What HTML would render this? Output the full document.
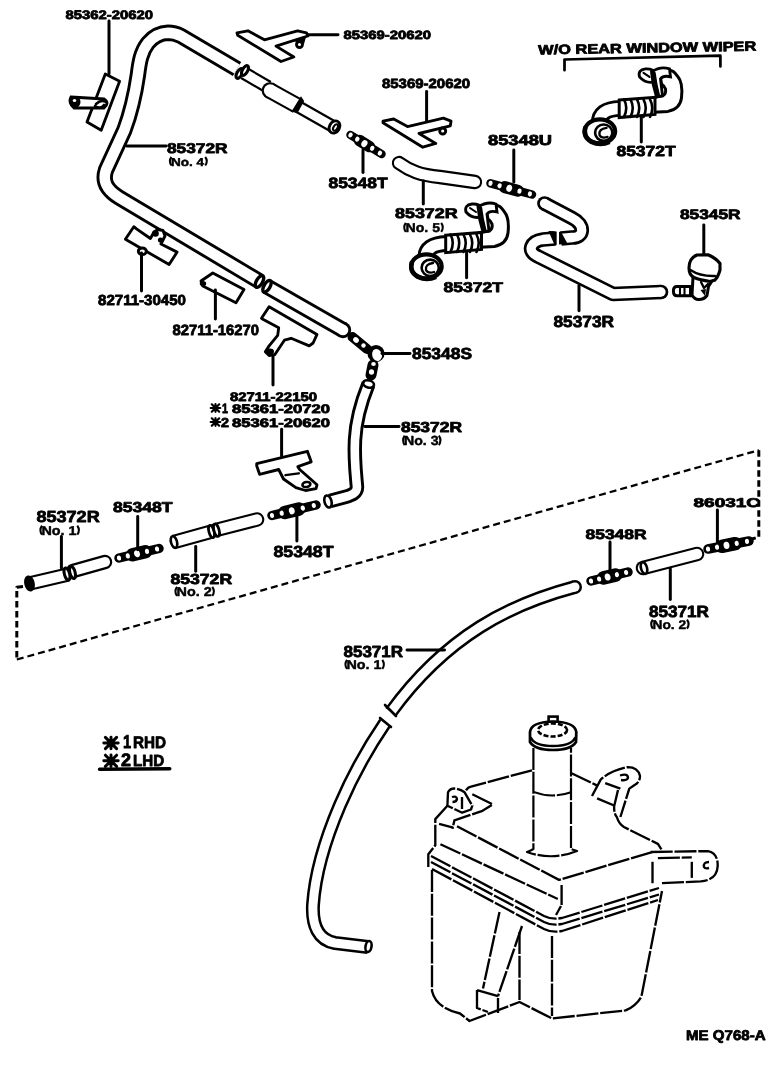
<!DOCTYPE html>
<html><head><meta charset="utf-8"><title>diagram</title>
<style>
html,body{margin:0;padding:0;background:#fff;width:784px;height:1088px;overflow:hidden}
svg{display:block;will-change:transform}
text{font-family:"Liberation Sans",sans-serif;fill:#000;text-rendering:geometricPrecision}
</style></head>
<body>
<svg width="784" height="1088" viewBox="0 0 784 1088">
<rect width="784" height="1088" fill="#fff"/>
<path d="M23,586.5 L16.8,587.2 L16.8,659.5" fill="none" stroke="#000" stroke-width="2.99" stroke-linejoin="round" stroke-dasharray="6.5 3.5" stroke-linecap="butt"/>
<path d="M16.8,659.5 L758.8,450.2" fill="none" stroke="#000" stroke-width="2.27" stroke-linejoin="round" stroke-dasharray="7 4" stroke-linecap="butt"/>
<path d="M758.8,450.2 L758.8,537 L752,539" fill="none" stroke="#000" stroke-width="2.99" stroke-linejoin="round" stroke-dasharray="6.5 3.5" stroke-linecap="butt"/>
<path d="M259,281 L119,197.5 C107,190 102,182 106,170 L124.4,130 C130,115 135,95 137.9,75 C139.5,62 141,52 148,43 C154,36 161,33 168,32.8 C172,32.8 176,33.5 181,36 L237,69" fill="none" stroke="#000" stroke-width="16.40" stroke-linecap="butt" stroke-linejoin="round"/>
<path d="M259,281 L119,197.5 C107,190 102,182 106,170 L124.4,130 C130,115 135,95 137.9,75 C139.5,62 141,52 148,43 C154,36 161,33 168,32.8 C172,32.8 176,33.5 181,36 L237,69" fill="none" stroke="#fff" stroke-width="10.60" stroke-linecap="butt" stroke-linejoin="round"/>
<path d="M267,286.5 L343,330" fill="none" stroke="#000" stroke-width="16.40" stroke-linecap="butt" stroke-linejoin="round"/>
<circle cx="343" cy="330" r="8.20" fill="#000"/>
<path d="M267,286.5 L343,330" fill="none" stroke="#fff" stroke-width="10.60" stroke-linecap="butt" stroke-linejoin="round"/>
<circle cx="343" cy="330" r="5.30" fill="#fff"/>
<ellipse cx="259.5" cy="281.5" rx="3.0" ry="6.6" transform="rotate(30.5 259.5 281.5)" fill="#fff" stroke="#000" stroke-width="3.38"/>
<ellipse cx="267.0" cy="286.3" rx="3.0" ry="6.6" transform="rotate(30.5 267.0 286.3)" fill="#fff" stroke="#000" stroke-width="3.38"/>
<path d="M244,73 L268,87" fill="none" stroke="#000" stroke-width="13.70" stroke-linecap="butt" stroke-linejoin="round"/>
<path d="M244,73 L268,87" fill="none" stroke="#fff" stroke-width="9.30" stroke-linecap="butt" stroke-linejoin="round"/>
<path d="M269,90 L297,105.5" fill="none" stroke="#000" stroke-width="16.70" stroke-linecap="butt" stroke-linejoin="round"/>
<circle cx="270" cy="90.5" r="8.35" fill="#000"/>
<path d="M269,90 L297,105.5" fill="none" stroke="#fff" stroke-width="12.30" stroke-linecap="butt" stroke-linejoin="round"/>
<circle cx="270" cy="90.5" r="6.15" fill="#fff"/>
<path d="M297,106 L334,127" fill="none" stroke="#000" stroke-width="13.20" stroke-linecap="butt" stroke-linejoin="round"/>
<path d="M297,106 L334,127" fill="none" stroke="#fff" stroke-width="8.80" stroke-linecap="butt" stroke-linejoin="round"/>
<ellipse cx="334.5" cy="127.0" rx="5.0" ry="6.5" transform="rotate(30 334.5 127.0)" fill="#fff" stroke="#000" stroke-width="2.86"/>
<ellipse cx="335.5" cy="127.5" rx="2.0" ry="3.5" transform="rotate(30 335.5 127.5)" fill="#fff" stroke="#000" stroke-width="2.08"/>
<path d="M301,98 L293,111 L297,112 L303,101 Z" fill="#000" stroke="#000" stroke-width="1.95"/>
<ellipse cx="239.5" cy="73.5" rx="2.6" ry="5.4" transform="rotate(30 239.5 73.5)" fill="#fff" stroke="#000" stroke-width="3.12"/>
<ellipse cx="245.0" cy="70.5" rx="2.6" ry="5.4" transform="rotate(30 245.0 70.5)" fill="#fff" stroke="#000" stroke-width="3.12"/>
<path d="M399,163 C410,171 420,175 440,177 L475,182" fill="none" stroke="#000" stroke-width="14.40" stroke-linecap="round" stroke-linejoin="round"/>
<path d="M399,163 C410,171 420,175 440,177 L475,182" fill="none" stroke="#fff" stroke-width="10.20" stroke-linecap="round" stroke-linejoin="round"/>
<path d="M544.5,203.5 L572,218 C586,225 584,238 572,237.5 L561,238.5" fill="none" stroke="#000" stroke-width="14.70" stroke-linecap="butt" stroke-linejoin="round"/>
<circle cx="544.5" cy="203.5" r="7.35" fill="#000"/>
<path d="M544.5,203.5 L572,218 C586,225 584,238 572,237.5 L561,238.5" fill="none" stroke="#fff" stroke-width="9.30" stroke-linecap="butt" stroke-linejoin="round"/>
<circle cx="544.5" cy="203.5" r="4.65" fill="#fff"/>
<path d="M560,232 L566,243 L560,243.5 Z" fill="#000" stroke="#000" stroke-width="1.95"/>
<path d="M555,238.5 L543,239.5 C531,241 526,251 538,256.5 L613,294 L661,292" fill="none" stroke="#000" stroke-width="14.70" stroke-linecap="butt" stroke-linejoin="round"/>
<circle cx="661" cy="292" r="7.35" fill="#000"/>
<path d="M555,238.5 L543,239.5 C531,241 526,251 538,256.5 L613,294 L661,292" fill="none" stroke="#fff" stroke-width="9.30" stroke-linecap="butt" stroke-linejoin="round"/>
<circle cx="661" cy="292" r="4.65" fill="#fff"/>
<path d="M550,232 L555.7,232.5 L555.7,245 Z" fill="#000" stroke="#000" stroke-width="1.95"/>
<path d="M368.5,384 C362,400 356,420 355,440 C354,460 356,475 357,487 C357,493 352,495 345,497 L330,501" fill="none" stroke="#000" stroke-width="14.40" stroke-linecap="butt" stroke-linejoin="round"/>
<path d="M368.5,384 C362,400 356,420 355,440 C354,460 356,475 357,487 C357,493 352,495 345,497 L330,501" fill="none" stroke="#fff" stroke-width="8.60" stroke-linecap="butt" stroke-linejoin="round"/>
<ellipse cx="368.6" cy="384.0" rx="5.5" ry="3.5" transform="rotate(15 368.6 384.0)" fill="#fff" stroke="#000" stroke-width="2.60"/>
<ellipse cx="328.0" cy="501.5" rx="3.5" ry="6.2" transform="rotate(-15 328.0 501.5)" fill="#fff" stroke="#000" stroke-width="2.60"/>
<path d="M29.5,583.5 L68,574.5" fill="none" stroke="#000" stroke-width="14.50" stroke-linecap="butt" stroke-linejoin="round"/>
<path d="M29.5,583.5 L68,574.5" fill="none" stroke="#fff" stroke-width="10.10" stroke-linecap="butt" stroke-linejoin="round"/>
<ellipse cx="29.5" cy="583.5" rx="3.0" ry="6.0" transform="rotate(-13 29.5 583.5)" fill="#000" stroke="#000" stroke-width="4.42"/>
<path d="M73,571 L105,562" fill="none" stroke="#000" stroke-width="14.50" stroke-linecap="round" stroke-linejoin="round"/>
<path d="M73,571 L105,562" fill="none" stroke="#fff" stroke-width="10.10" stroke-linecap="round" stroke-linejoin="round"/>
<ellipse cx="67.0" cy="574.0" rx="2.6" ry="6.2" transform="rotate(-15 67.0 574.0)" fill="#fff" stroke="#000" stroke-width="2.99"/>
<ellipse cx="72.5" cy="572.5" rx="2.6" ry="6.2" transform="rotate(-15 72.5 572.5)" fill="#fff" stroke="#000" stroke-width="2.99"/>
<path d="M174,542 L210,532" fill="none" stroke="#000" stroke-width="14.60" stroke-linecap="butt" stroke-linejoin="round"/>
<path d="M174,542 L210,532" fill="none" stroke="#fff" stroke-width="10.40" stroke-linecap="butt" stroke-linejoin="round"/>
<ellipse cx="174.0" cy="542.0" rx="3.0" ry="6.0" transform="rotate(-15 174.0 542.0)" fill="#fff" stroke="#000" stroke-width="2.60"/>
<path d="M216,530 L257,519.5" fill="none" stroke="#000" stroke-width="14.60" stroke-linecap="round" stroke-linejoin="round"/>
<path d="M216,530 L257,519.5" fill="none" stroke="#fff" stroke-width="10.40" stroke-linecap="round" stroke-linejoin="round"/>
<ellipse cx="211.5" cy="531.5" rx="2.6" ry="6.4" transform="rotate(-15 211.5 531.5)" fill="#fff" stroke="#000" stroke-width="2.73"/>
<ellipse cx="216.5" cy="530.2" rx="2.6" ry="6.4" transform="rotate(-15 216.5 530.2)" fill="#fff" stroke="#000" stroke-width="2.73"/>
<path d="M643,568 L697,554" fill="none" stroke="#000" stroke-width="14.60" stroke-linecap="round" stroke-linejoin="round"/>
<path d="M643,568 L697,554" fill="none" stroke="#fff" stroke-width="10.40" stroke-linecap="round" stroke-linejoin="round"/>
<ellipse cx="644.0" cy="568.0" rx="3.0" ry="6.0" transform="rotate(-15 644.0 568.0)" fill="#fff" stroke="#000" stroke-width="2.60"/>
<path d="M575,587 C545,595 510,608 480,627 C450,646 420,672 391,712" fill="none" stroke="#000" stroke-width="14.00" stroke-linecap="butt" stroke-linejoin="round"/>
<circle cx="575" cy="587" r="7.00" fill="#000"/>
<path d="M575,587 C545,595 510,608 480,627 C450,646 420,672 391,712" fill="none" stroke="#fff" stroke-width="9.00" stroke-linecap="butt" stroke-linejoin="round"/>
<circle cx="575" cy="587" r="4.50" fill="#fff"/>
<path d="M385,705 L396,716" fill="none" stroke="#000" stroke-width="2.60" stroke-linecap="round" stroke-linejoin="round"/>
<path d="M385,723 C370,745 355,770 340,805 C325,840 315,875 313,905 C312,925 318,940 335,943 L368,947" fill="none" stroke="#000" stroke-width="14.00" stroke-linecap="butt" stroke-linejoin="round"/>
<path d="M385,723 C370,745 355,770 340,805 C325,840 315,875 313,905 C312,925 318,940 335,943 L368,947" fill="none" stroke="#fff" stroke-width="9.00" stroke-linecap="butt" stroke-linejoin="round"/>
<path d="M380,718 L391,727" fill="none" stroke="#000" stroke-width="2.60" stroke-linecap="round" stroke-linejoin="round"/>
<ellipse cx="368.5" cy="946.5" rx="3.0" ry="5.5" transform="rotate(10 368.5 946.5)" fill="#fff" stroke="#000" stroke-width="2.60"/>
<path d="M350.5,135.0 L381.5,154.0" fill="none" stroke="#000" stroke-width="8.50" stroke-linecap="round" stroke-linejoin="round"/>
<path d="M359.5,140.5 L369.4,146.6" fill="none" stroke="#000" stroke-width="11.50" stroke-linecap="round" stroke-linejoin="round"/>
<ellipse cx="350.5" cy="135.0" rx="2.1" ry="2.6" transform="rotate(31.5 350.5 135.0)" fill="#fff"/>
<ellipse cx="357.3" cy="139.2" rx="2.1" ry="2.6" transform="rotate(31.5 357.3 139.2)" fill="#fff"/>
<ellipse cx="364.4" cy="143.6" rx="2.9" ry="3.6" transform="rotate(31.5 364.4 143.6)" fill="#fff"/>
<ellipse cx="372.2" cy="148.3" rx="2.1" ry="2.6" transform="rotate(31.5 372.2 148.3)" fill="#fff"/>
<ellipse cx="379.9" cy="153.1" rx="2.1" ry="2.6" transform="rotate(31.5 379.9 153.1)" fill="#fff"/>
<path d="M490.5,183.3 L532.0,194.5" fill="none" stroke="#000" stroke-width="8.50" stroke-linecap="round" stroke-linejoin="round"/>
<path d="M504.6,187.1 L517.9,190.7" fill="none" stroke="#000" stroke-width="12.00" stroke-linecap="round" stroke-linejoin="round"/>
<ellipse cx="490.5" cy="183.3" rx="2.1" ry="2.6" transform="rotate(15.1 490.5 183.3)" fill="#fff"/>
<ellipse cx="499.6" cy="185.8" rx="2.1" ry="2.6" transform="rotate(15.1 499.6 185.8)" fill="#fff"/>
<ellipse cx="509.2" cy="188.3" rx="2.9" ry="3.6" transform="rotate(15.1 509.2 188.3)" fill="#fff"/>
<ellipse cx="519.5" cy="191.1" rx="2.1" ry="2.6" transform="rotate(15.1 519.5 191.1)" fill="#fff"/>
<ellipse cx="529.9" cy="193.9" rx="2.1" ry="2.6" transform="rotate(15.1 529.9 193.9)" fill="#fff"/>
<path d="M119.0,558.0 L159.0,548.5" fill="none" stroke="#000" stroke-width="9.50" stroke-linecap="round" stroke-linejoin="round"/>
<path d="M132.6,554.8 L145.4,551.7" fill="none" stroke="#000" stroke-width="13.50" stroke-linecap="round" stroke-linejoin="round"/>
<ellipse cx="119.0" cy="558.0" rx="2.1" ry="2.6" transform="rotate(-13.4 119.0 558.0)" fill="#fff"/>
<ellipse cx="127.8" cy="555.9" rx="2.1" ry="2.6" transform="rotate(-13.4 127.8 555.9)" fill="#fff"/>
<ellipse cx="137.0" cy="553.7" rx="2.9" ry="3.6" transform="rotate(-13.4 137.0 553.7)" fill="#fff"/>
<ellipse cx="147.0" cy="551.4" rx="2.1" ry="2.6" transform="rotate(-13.4 147.0 551.4)" fill="#fff"/>
<ellipse cx="157.0" cy="549.0" rx="2.1" ry="2.6" transform="rotate(-13.4 157.0 549.0)" fill="#fff"/>
<path d="M272.0,515.5 L316.0,505.0" fill="none" stroke="#000" stroke-width="9.50" stroke-linecap="round" stroke-linejoin="round"/>
<path d="M284.8,512.5 L298.8,509.1" fill="none" stroke="#000" stroke-width="13.50" stroke-linecap="round" stroke-linejoin="round"/>
<ellipse cx="272.0" cy="515.5" rx="2.1" ry="2.6" transform="rotate(-13.4 272.0 515.5)" fill="#fff"/>
<ellipse cx="281.7" cy="513.2" rx="2.1" ry="2.6" transform="rotate(-13.4 281.7 513.2)" fill="#fff"/>
<ellipse cx="291.8" cy="510.8" rx="2.9" ry="3.6" transform="rotate(-13.4 291.8 510.8)" fill="#fff"/>
<ellipse cx="302.8" cy="508.1" rx="2.1" ry="2.6" transform="rotate(-13.4 302.8 508.1)" fill="#fff"/>
<ellipse cx="313.8" cy="505.5" rx="2.1" ry="2.6" transform="rotate(-13.4 313.8 505.5)" fill="#fff"/>
<path d="M591.0,581.0 L628.0,572.0" fill="none" stroke="#000" stroke-width="9.50" stroke-linecap="round" stroke-linejoin="round"/>
<path d="M603.6,577.9 L615.4,575.1" fill="none" stroke="#000" stroke-width="13.50" stroke-linecap="round" stroke-linejoin="round"/>
<ellipse cx="591.0" cy="581.0" rx="2.1" ry="2.6" transform="rotate(-13.7 591.0 581.0)" fill="#fff"/>
<ellipse cx="599.1" cy="579.0" rx="2.1" ry="2.6" transform="rotate(-13.7 599.1 579.0)" fill="#fff"/>
<ellipse cx="607.6" cy="577.0" rx="2.9" ry="3.6" transform="rotate(-13.7 607.6 577.0)" fill="#fff"/>
<ellipse cx="616.9" cy="574.7" rx="2.1" ry="2.6" transform="rotate(-13.7 616.9 574.7)" fill="#fff"/>
<ellipse cx="626.1" cy="572.5" rx="2.1" ry="2.6" transform="rotate(-13.7 626.1 572.5)" fill="#fff"/>
<path d="M708.0,549.0 L749.0,541.0" fill="none" stroke="#000" stroke-width="9.50" stroke-linecap="round" stroke-linejoin="round"/>
<path d="M721.9,546.3 L735.1,543.7" fill="none" stroke="#000" stroke-width="13.50" stroke-linecap="round" stroke-linejoin="round"/>
<ellipse cx="708.0" cy="549.0" rx="2.1" ry="2.6" transform="rotate(-11.0 708.0 549.0)" fill="#fff"/>
<ellipse cx="717.0" cy="547.2" rx="2.1" ry="2.6" transform="rotate(-11.0 717.0 547.2)" fill="#fff"/>
<ellipse cx="726.5" cy="545.4" rx="2.9" ry="3.6" transform="rotate(-11.0 726.5 545.4)" fill="#fff"/>
<ellipse cx="736.7" cy="543.4" rx="2.1" ry="2.6" transform="rotate(-11.0 736.7 543.4)" fill="#fff"/>
<ellipse cx="747.0" cy="541.4" rx="2.1" ry="2.6" transform="rotate(-11.0 747.0 541.4)" fill="#fff"/>
<path d="M352.5,337 L367,349" fill="none" stroke="#000" stroke-width="10.00" stroke-linecap="round" stroke-linejoin="round"/>
<circle cx="376" cy="353.5" r="8.6" fill="#000"/>
<path d="M373,365 L371,375" fill="none" stroke="#000" stroke-width="11.00" stroke-linecap="round" stroke-linejoin="round"/>
<ellipse cx="356" cy="340" rx="3" ry="2.6" transform="rotate(40 356 340)" fill="#fff"/>
<ellipse cx="363.5" cy="345.5" rx="2.2" ry="2.2" fill="#fff"/>
<ellipse cx="377" cy="355" rx="4.8" ry="6" transform="rotate(-20 377 355)" fill="#fff"/>
<ellipse cx="373.5" cy="364" rx="2.3" ry="2.1" fill="#fff"/>
<ellipse cx="371.5" cy="372" rx="2.6" ry="2.8" fill="#fff"/>
<polygon points="105.3,74.0 119.6,81.2 101.2,130.2 87.0,122.0" fill="#fff" stroke="#000" stroke-width="2.86" stroke-linejoin="round"/>
<path d="M71,97 L104,99 Q110,103 104,108 L74,108 Q68,103 71,97 Z" fill="#fff" stroke="#000" stroke-width="2.86"/>
<ellipse cx="75.5" cy="102" rx="5" ry="5.8" fill="#000"/>
<ellipse cx="74.5" cy="100.5" rx="1.8" ry="1.5" fill="#fff"/>
<path d="M96,104 Q101,99 106,102 M95,106 Q100,110 104,105" fill="none" stroke="#000" stroke-width="2.60" stroke-linecap="round" stroke-linejoin="round"/>
<polygon points="237.0,32.8 247.9,30.8 264.4,39.8 297.6,30.8 306.5,32.8 307.8,36.0 276.0,46.1 293.8,57.0 281.0,61.5 237.7,35.3" fill="#fff" stroke="#000" stroke-width="2.86" stroke-linejoin="round"/>
<circle cx="299.5" cy="44.5" r="3.0" fill="#fff" stroke="#000" stroke-width="2.86"/>
<path d="M293,41 L306,37 L304,44 Z" fill="#000"/>
<polygon points="383.0,121.2 393.7,119.0 407.5,126.6 443.4,118.2 451.0,121.2 450.3,125.8 419.0,133.5 435.8,143.4 422.8,147.2 383.0,122.8" fill="#fff" stroke="#000" stroke-width="2.86" stroke-linejoin="round"/>
<circle cx="442.7" cy="131.0" r="3.0" fill="#fff" stroke="#000" stroke-width="2.86"/>
<polygon points="125.4,239.2 133.8,226.7 136.5,228.9 150.4,238.5 154.0,232.0 158.0,229.5 163.0,230.5 165.0,236.0 161.0,244.0 177.1,252.1 169.1,264.6" fill="#fff" stroke="#000" stroke-width="2.86" stroke-linejoin="round"/>
<circle cx="155.5" cy="233.5" r="3.3" fill="#000"/><circle cx="160.5" cy="240" r="2.6" fill="#000"/>
<ellipse cx="142.3" cy="251.3" rx="4.0" ry="3.3" transform="rotate(0 142.3 251.3)" fill="#fff" stroke="#000" stroke-width="2.86"/>
<polygon points="201.0,281.0 212.8,273.0 244.0,289.5 236.0,302.7 202.8,286.0" fill="#fff" stroke="#000" stroke-width="2.86" stroke-linejoin="round"/>
<ellipse cx="203" cy="283.5" rx="3.2" ry="2.6" fill="#000"/>
<polygon points="261.5,318.2 269.1,306.7 317.0,334.4 313.1,343.0 309.3,345.9 291.1,338.3 284.4,340.2 274.9,354.5 269.1,355.5 265.3,351.7 269.1,345.9 277.7,335.4 278.7,327.7 262.4,319.1" fill="#fff" stroke="#000" stroke-width="2.86" stroke-linejoin="round"/>
<ellipse cx="270" cy="351.5" rx="4" ry="3" fill="#000"/>
<polygon points="256.7,463.7 307.4,451.3 311.2,461.8 297.8,466.6 299.7,469.5 317.0,484.8 316.0,488.6 305.5,490.5 295.9,487.7 283.5,479.0 278.7,469.5 259.6,474.3 256.7,465.7" fill="#fff" stroke="#000" stroke-width="2.86" stroke-linejoin="round"/>
<ellipse cx="306.4" cy="484.5" rx="4.0" ry="2.5" transform="rotate(-10 306.4 484.5)" fill="#fff" stroke="#000" stroke-width="2.60"/>
<path d="M285.4,475.2 L298.8,473.3" fill="none" stroke="#000" stroke-width="2.34" stroke-linecap="round" stroke-linejoin="round"/>
<g transform="translate(173.5,-135.1)">
<path d="M480,247.3 L494.4,246.5 C502,245 507,241 508,233 C509,224 508,216 504.3,211.7 C501,207 499,205 494,205 L486,208 L488,219 Q491,221 492,224 Q493,229 489,231 L480,232.6 Z" fill="#fff" stroke="#000" stroke-width="2.99"/>
<path d="M426,259 C425,249 432,244 447,243.5" fill="none" stroke="#000" stroke-width="16.90" stroke-linecap="butt" stroke-linejoin="round"/>
<path d="M426,259 C425,249 432,244 447,243.5" fill="none" stroke="#fff" stroke-width="11.10" stroke-linecap="butt" stroke-linejoin="round"/>
<path d="M445.7,235.2 L481.5,232.4 L481.5,249.5 L445.7,252.7 Z" fill="#fff" stroke="#000" stroke-width="2.99"/>
<path d="M450.5,234.5 Q455.0,243 450.5,252" fill="none" stroke="#000" stroke-width="2.60" stroke-linecap="round" stroke-linejoin="round"/>
<path d="M457,234.5 Q461.5,243 457,252" fill="none" stroke="#000" stroke-width="2.60" stroke-linecap="round" stroke-linejoin="round"/>
<path d="M463.5,234.5 Q468.0,243 463.5,252" fill="none" stroke="#000" stroke-width="2.60" stroke-linecap="round" stroke-linejoin="round"/>
<path d="M470,234.5 Q474.5,243 470,252" fill="none" stroke="#000" stroke-width="2.60" stroke-linecap="round" stroke-linejoin="round"/>
<path d="M476.5,234.5 Q481.0,243 476.5,252" fill="none" stroke="#000" stroke-width="2.60" stroke-linecap="round" stroke-linejoin="round"/>
<ellipse cx="426.4" cy="266.4" rx="15.3" ry="12" fill="#fff" stroke="#000" stroke-width="4.16"/>
<path d="M412,262 Q409,272 418,277 Q427,281 436,277" fill="none" stroke="#000" stroke-width="4.55"/>
<ellipse cx="430.2" cy="267.8" rx="8.6" ry="8.2" fill="#fff" stroke="#000" stroke-width="2.60"/>
<path d="M433,263 Q425,264 426,270 Q428,274 434,272" fill="none" stroke="#000" stroke-width="2.34" stroke-linecap="round" stroke-linejoin="round"/>
<path d="M466,212 Q464,205 472,204 Q479,203.5 483,208 L481,217 Q472,219 466,212 Z" fill="#fff" stroke="#000" stroke-width="2.86"/>
<path d="M478,207 Q487,201 496,204 L497,212 Q490,210 487,214 L489,231 L483,232 Q479,220 478,207 Z" fill="#fff" stroke="#000" stroke-width="2.86"/>
<path d="M480.5,208 Q482,220 485,231" fill="none" stroke="#000" stroke-width="3.38" stroke-linecap="round" stroke-linejoin="round"/>
<path d="M470,208 L476,212" fill="none" stroke="#000" stroke-width="2.08" stroke-linecap="round" stroke-linejoin="round"/>
</g>
<path d="M480,247.3 L494.4,246.5 C502,245 507,241 508,233 C509,224 508,216 504.3,211.7 C501,207 499,205 494,205 L486,208 L488,219 Q491,221 492,224 Q493,229 489,231 L480,232.6 Z" fill="#fff" stroke="#000" stroke-width="2.99"/>
<path d="M426,259 C425,249 432,244 447,243.5" fill="none" stroke="#000" stroke-width="16.90" stroke-linecap="butt" stroke-linejoin="round"/>
<path d="M426,259 C425,249 432,244 447,243.5" fill="none" stroke="#fff" stroke-width="11.10" stroke-linecap="butt" stroke-linejoin="round"/>
<path d="M445.7,235.2 L481.5,232.4 L481.5,249.5 L445.7,252.7 Z" fill="#fff" stroke="#000" stroke-width="2.99"/>
<path d="M450.5,234.5 Q455.0,243 450.5,252" fill="none" stroke="#000" stroke-width="2.60" stroke-linecap="round" stroke-linejoin="round"/>
<path d="M457,234.5 Q461.5,243 457,252" fill="none" stroke="#000" stroke-width="2.60" stroke-linecap="round" stroke-linejoin="round"/>
<path d="M463.5,234.5 Q468.0,243 463.5,252" fill="none" stroke="#000" stroke-width="2.60" stroke-linecap="round" stroke-linejoin="round"/>
<path d="M470,234.5 Q474.5,243 470,252" fill="none" stroke="#000" stroke-width="2.60" stroke-linecap="round" stroke-linejoin="round"/>
<path d="M476.5,234.5 Q481.0,243 476.5,252" fill="none" stroke="#000" stroke-width="2.60" stroke-linecap="round" stroke-linejoin="round"/>
<ellipse cx="426.4" cy="266.4" rx="15.3" ry="12" fill="#fff" stroke="#000" stroke-width="4.16"/>
<path d="M412,262 Q409,272 418,277 Q427,281 436,277" fill="none" stroke="#000" stroke-width="4.55"/>
<ellipse cx="430.2" cy="267.8" rx="8.6" ry="8.2" fill="#fff" stroke="#000" stroke-width="2.60"/>
<path d="M433,263 Q425,264 426,270 Q428,274 434,272" fill="none" stroke="#000" stroke-width="2.34" stroke-linecap="round" stroke-linejoin="round"/>
<path d="M466,212 Q464,205 472,204 Q479,203.5 483,208 L481,217 Q472,219 466,212 Z" fill="#fff" stroke="#000" stroke-width="2.86"/>
<path d="M478,207 Q487,201 496,204 L497,212 Q490,210 487,214 L489,231 L483,232 Q479,220 478,207 Z" fill="#fff" stroke="#000" stroke-width="2.86"/>
<path d="M480.5,208 Q482,220 485,231" fill="none" stroke="#000" stroke-width="3.38" stroke-linecap="round" stroke-linejoin="round"/>
<path d="M470,208 L476,212" fill="none" stroke="#000" stroke-width="2.08" stroke-linecap="round" stroke-linejoin="round"/>
<path d="M693,277 L692,295 Q695,300 699,299.5 Q704,299.5 707,295.5 L708.5,286.5 L712,281" fill="#fff" stroke="#000" stroke-width="2.99"/>
<path d="M689,268 Q689,258 697,255 L708,254.7 Q716,258 720,263.5 L720,270 Q718,277 715,280 L710,281.5 Q700,280 694,277.5 Q689,275 689,268 Z" fill="#fff" stroke="#000" stroke-width="3.12"/>
<path d="M690.5,270 Q700,276.5 715,276" fill="none" stroke="#000" stroke-width="2.34" stroke-linecap="round" stroke-linejoin="round"/>
<path d="M677,286.5 L690.5,286.5 L690.5,295.8 L677,295.8 Q673.4,295.8 673.4,291 Q673.4,286.5 677,286.5 Z" fill="#fff" stroke="#000" stroke-width="2.99"/>
<path d="M680,287 V295.5 M684.5,287 V295.5" fill="none" stroke="#000" stroke-width="2.08" stroke-linecap="round" stroke-linejoin="round"/>
<path d="M701,282 L704,288 L708,284" fill="none" stroke="#000" stroke-width="2.34" stroke-linecap="round" stroke-linejoin="round"/>
<path d="M700.5,290 L706,289 L705,296 Z" fill="#000"/>
<path d="M533.4,748 V849 Q530,851 527,852 Q552,861 577,851 Q574,850 571,849 V748" fill="none" stroke="#000" stroke-width="2.21" stroke-linejoin="round" stroke-dasharray="22 1.8" stroke-linecap="butt"/>
<path d="M533.5,791.9 Q552,799 571.8,791.9" fill="none" stroke="#000" stroke-width="2.08" stroke-linejoin="round" stroke-dasharray="22 1.8" stroke-linecap="butt"/>
<rect x="548.6" y="716.6" width="9" height="5.5" fill="#fff" stroke="#000" stroke-width="2.60"/>
<path d="M530,732 Q531,722 553,721.5 Q575,722 576.3,732 L576,742 Q571,750 553,750 Q535,750 530,742 Z" fill="#fff" stroke="#000" stroke-width="2.73"/>
<path d="M531,738 Q535,746 553,746 Q571,746 575,738" fill="none" stroke="#000" stroke-width="2.60" stroke-linecap="round" stroke-linejoin="round"/>
<ellipse cx="552.6" cy="730" rx="14.5" ry="6.5" fill="none" stroke="#000" stroke-width="2.60" stroke-dasharray="5 2"/>
<path d="M466,790.4 Q468,787 471,786.6 L532.2,770.2" fill="none" stroke="#000" stroke-width="2.34" stroke-linejoin="round" stroke-dasharray="22 1.8" stroke-linecap="butt"/>
<path d="M571,773 L596.8,785.4" fill="none" stroke="#000" stroke-width="2.34" stroke-linejoin="round" stroke-dasharray="22 1.8" stroke-linecap="butt"/>
<path d="M447.4,805.7 L435.3,819.1 L435.3,845.3 L428.3,854.2 L428.3,867.1" fill="none" stroke="#000" stroke-width="2.34" stroke-linejoin="round" stroke-dasharray="22 1.8" stroke-linecap="butt"/>
<path d="M439.1,823.8 L453.2,827.6" fill="none" stroke="#000" stroke-width="2.34" stroke-linejoin="round" stroke-dasharray="22 1.8" stroke-linecap="butt"/>
<path d="M457,826.3 L559,879.9 L652.5,852" fill="none" stroke="#000" stroke-width="2.34" stroke-linejoin="round" stroke-dasharray="22 1.8" stroke-linecap="butt"/>
<path d="M440.4,844.2 L557.8,899" fill="none" stroke="#000" stroke-width="2.34" stroke-linejoin="round" stroke-dasharray="22 1.8" stroke-linecap="butt"/>
<path d="M561.6,885 V905" fill="none" stroke="#000" stroke-width="2.34" stroke-linejoin="round" stroke-dasharray="22 1.8" stroke-linecap="butt"/>
<path d="M556,915 L561,906" fill="none" stroke="#000" stroke-width="2.34" stroke-linejoin="round" stroke-dasharray="22 1.8" stroke-linecap="butt"/>
<path d="M431,856 L544,916 Q552,920 562,918 L659,888" fill="none" stroke="#000" stroke-width="2.34" stroke-linejoin="round" stroke-dasharray="22 1.8" stroke-linecap="butt"/>
<path d="M431,862 L544,922 Q552,926 562,924 L659,894.5" fill="none" stroke="#000" stroke-width="2.34" stroke-linejoin="round" stroke-dasharray="22 1.8" stroke-linecap="butt"/>
<path d="M432,869 L544,929 Q552,933 562,931 L658,900" fill="none" stroke="#000" stroke-width="2.34" stroke-linejoin="round" stroke-dasharray="22 1.8" stroke-linecap="butt"/>
<path d="M432,870 V991 Q436,1008 460,1013.5 L469.5,1021 L519.5,1002 L552,1018.5 L625.6,1010.4 Q636,1006 641.4,996.6 L662,891" fill="none" stroke="#000" stroke-width="2.34" stroke-linejoin="round" stroke-dasharray="22 1.8" stroke-linecap="butt"/>
<path d="M552,936 V1016" fill="none" stroke="#000" stroke-width="2.34" stroke-linejoin="round" stroke-dasharray="22 1.8" stroke-linecap="butt"/>
<path d="M519.5,932 V1000" fill="none" stroke="#000" stroke-width="2.34" stroke-linejoin="round" stroke-dasharray="22 1.8" stroke-linecap="butt"/>
<path d="M499.5,912 L483,988.5" fill="none" stroke="#000" stroke-width="2.34" stroke-linejoin="round" stroke-dasharray="22 1.8" stroke-linecap="butt"/>
<path d="M522,926 L498,996" fill="none" stroke="#000" stroke-width="2.34" stroke-linejoin="round" stroke-dasharray="22 1.8" stroke-linecap="butt"/>
<path d="M477,990 L498,996 V1013 M477,990 V1008 L488,1012" fill="none" stroke="#000" stroke-width="2.34" stroke-linejoin="round" stroke-dasharray="22 1.8" stroke-linecap="butt"/>
<path d="M592,796 L600.7,779.6 Q610,771 627.5,767.1 Q638,767 640,776 Q640,782 634.6,785 L629.3,788.6 L620.4,817" fill="none" stroke="#000" stroke-width="2.34" stroke-linejoin="round" stroke-dasharray="22 1.8" stroke-linecap="butt"/>
<path d="M605.2,783.2 L620.4,788.6" fill="none" stroke="#000" stroke-width="2.34" stroke-linejoin="round" stroke-dasharray="22 1.8" stroke-linecap="butt"/>
<path d="M597.1,798.4 L614.1,805.5" fill="none" stroke="#000" stroke-width="2.34" stroke-linejoin="round" stroke-dasharray="22 1.8" stroke-linecap="butt"/>
<path d="M618,790 L614.1,806.4 Q614,814 616.8,817 Q619,824 623.9,827 L657.9,843.9 L661.4,849.3" fill="none" stroke="#000" stroke-width="2.34" stroke-linejoin="round" stroke-dasharray="22 1.8" stroke-linecap="butt"/>
<path d="M620,775.5 Q628,773 628,778 Q627,781 621,780" fill="none" stroke="#000" stroke-width="2.34" stroke-linejoin="round" stroke-dasharray="22 1.8" stroke-linecap="butt"/>
<path d="M650.7,852 L707.9,851.1 Q718,853 717.7,866 Q717,880 700.7,881.4 L661.4,883.2" fill="none" stroke="#000" stroke-width="2.34" stroke-linejoin="round" stroke-dasharray="22 1.8" stroke-linecap="butt"/>
<path d="M657.9,858.2 L691.8,857.3" fill="none" stroke="#000" stroke-width="2.34" stroke-linejoin="round" stroke-dasharray="22 1.8" stroke-linecap="butt"/>
<path d="M652.5,861.8 V883.2" fill="none" stroke="#000" stroke-width="2.34" stroke-linejoin="round" stroke-dasharray="22 1.8" stroke-linecap="butt"/>
<path d="M691.8,861.8 V877.9" fill="none" stroke="#000" stroke-width="2.34" stroke-linejoin="round" stroke-dasharray="22 1.8" stroke-linecap="butt"/>
<path d="M709,862 Q703,862 704,867 Q705,869 709,868" fill="none" stroke="#000" stroke-width="2.34" stroke-linejoin="round" stroke-dasharray="22 1.8" stroke-linecap="butt"/>
<path d="M447.4,805.7 L448,792.3 Q450,788.5 454.4,788.5 Q460,789 464.6,792.3 L472.3,805.7 L471,809.5 L462.1,812.7 Z" fill="none" stroke="#000" stroke-width="2.34" stroke-linejoin="round" stroke-dasharray="22 1.8" stroke-linecap="butt"/>
<path d="M472.3,794.2 L492.7,804.4 L482.5,810.8 L454.4,820.4 L452.5,828.7" fill="none" stroke="#000" stroke-width="2.34" stroke-linejoin="round" stroke-dasharray="22 1.8" stroke-linecap="butt"/>
<path d="M462,797 V809" fill="none" stroke="#000" stroke-width="2.34" stroke-linejoin="round" stroke-dasharray="22 1.8" stroke-linecap="butt"/>
<path d="M452,797 Q456.5,795.5 457,799 Q456.5,802 452.5,802" fill="none" stroke="#000" stroke-width="2.34" stroke-linejoin="round" stroke-dasharray="22 1.8" stroke-linecap="butt"/>
<path d="M109,21 V74" fill="none" stroke="#000" stroke-width="2.99" stroke-linecap="round" stroke-linejoin="round"/>
<path d="M308,34.7 H338" fill="none" stroke="#000" stroke-width="2.99" stroke-linecap="round" stroke-linejoin="round"/>
<path d="M426.6,91.4 V121" fill="none" stroke="#000" stroke-width="2.99" stroke-linecap="round" stroke-linejoin="round"/>
<path d="M423.3,181 V204" fill="none" stroke="#000" stroke-width="2.99" stroke-linecap="round" stroke-linejoin="round"/>
<path d="M513.8,150 V182" fill="none" stroke="#000" stroke-width="2.99" stroke-linecap="round" stroke-linejoin="round"/>
<path d="M641.3,116 V142" fill="none" stroke="#000" stroke-width="2.99" stroke-linecap="round" stroke-linejoin="round"/>
<path d="M703.8,225 V254.5" fill="none" stroke="#000" stroke-width="2.99" stroke-linecap="round" stroke-linejoin="round"/>
<path d="M363,150 V172.5" fill="none" stroke="#000" stroke-width="2.99" stroke-linecap="round" stroke-linejoin="round"/>
<path d="M126.7,146 H166" fill="none" stroke="#000" stroke-width="2.99" stroke-linecap="round" stroke-linejoin="round"/>
<path d="M141.5,253 V291" fill="none" stroke="#000" stroke-width="2.99" stroke-linecap="round" stroke-linejoin="round"/>
<path d="M215.4,290 V319" fill="none" stroke="#000" stroke-width="2.99" stroke-linecap="round" stroke-linejoin="round"/>
<path d="M273,355.5 V385" fill="none" stroke="#000" stroke-width="2.99" stroke-linecap="round" stroke-linejoin="round"/>
<path d="M281.6,429.3 V456" fill="none" stroke="#000" stroke-width="2.99" stroke-linecap="round" stroke-linejoin="round"/>
<path d="M364.8,426.4 H399" fill="none" stroke="#000" stroke-width="2.99" stroke-linecap="round" stroke-linejoin="round"/>
<path d="M382,353.6 H410" fill="none" stroke="#000" stroke-width="2.99" stroke-linecap="round" stroke-linejoin="round"/>
<path d="M579,285.4 V310.7" fill="none" stroke="#000" stroke-width="2.99" stroke-linecap="round" stroke-linejoin="round"/>
<path d="M466.6,252 V277.8" fill="none" stroke="#000" stroke-width="2.99" stroke-linecap="round" stroke-linejoin="round"/>
<path d="M61.4,536.4 V568" fill="none" stroke="#000" stroke-width="2.99" stroke-linecap="round" stroke-linejoin="round"/>
<path d="M137.7,516.5 V549.7" fill="none" stroke="#000" stroke-width="2.99" stroke-linecap="round" stroke-linejoin="round"/>
<path d="M296.9,515.4 V541" fill="none" stroke="#000" stroke-width="2.99" stroke-linecap="round" stroke-linejoin="round"/>
<path d="M195.7,546.4 V571.3" fill="none" stroke="#000" stroke-width="2.99" stroke-linecap="round" stroke-linejoin="round"/>
<path d="M610,542 V572.7" fill="none" stroke="#000" stroke-width="2.99" stroke-linecap="round" stroke-linejoin="round"/>
<path d="M670.3,568.8 V599.4" fill="none" stroke="#000" stroke-width="2.99" stroke-linecap="round" stroke-linejoin="round"/>
<path d="M717.4,510 V542" fill="none" stroke="#000" stroke-width="2.99" stroke-linecap="round" stroke-linejoin="round"/>
<path d="M407,650 H444.5" fill="none" stroke="#000" stroke-width="2.99" stroke-linecap="round" stroke-linejoin="round"/>
<path d="M564.5,70.2 V59.5 L720.4,55.7 V66.4" fill="none" stroke="#000" stroke-width="2.73" stroke-linecap="round" stroke-linejoin="round"/>
<text x="65.50" y="18.50" font-size="12.36" textLength="87.53" lengthAdjust="spacingAndGlyphs" font-weight="bold" stroke="#000" stroke-width="0.80" stroke-linejoin="round">85362-20620</text>
<text x="343.50" y="39.00" font-size="12.02" textLength="87.53" lengthAdjust="spacingAndGlyphs" font-weight="bold" stroke="#000" stroke-width="0.80" stroke-linejoin="round">85369-20620</text>
<text x="382.00" y="87.50" font-size="13.39" textLength="88.06" lengthAdjust="spacingAndGlyphs" font-weight="bold" stroke="#000" stroke-width="0.80" stroke-linejoin="round">85369-20620</text>
<text x="488.00" y="145.00" font-size="14.44" textLength="64.02" lengthAdjust="spacingAndGlyphs" font-weight="bold" stroke="#000" stroke-width="0.80" stroke-linejoin="round">85348U</text>
<g transform="rotate(-1.0 537.7 55.7)">
<text x="538.40" y="54.40" font-size="13.35" textLength="218.00" lengthAdjust="spacingAndGlyphs" font-weight="bold" stroke="#000" stroke-width="0.80" stroke-linejoin="round">W/O REAR WINDOW WIPER</text>
</g>
<text x="616.50" y="156.00" font-size="14.56" textLength="59.07" lengthAdjust="spacingAndGlyphs" font-weight="bold" stroke="#000" stroke-width="0.80" stroke-linejoin="round">85372T</text>
<text x="680.00" y="218.50" font-size="13.75" textLength="60.55" lengthAdjust="spacingAndGlyphs" font-weight="bold" stroke="#000" stroke-width="0.80" stroke-linejoin="round">85345R</text>
<text x="167.00" y="153.00" font-size="14.00" textLength="60.54" lengthAdjust="spacingAndGlyphs" font-weight="bold" stroke="#000" stroke-width="0.80" stroke-linejoin="round">85372R</text>
<path d="M171.5,157.0 Q168.3,161.2 171.5,165.5" fill="none" stroke="#000" stroke-width="2.08"/>
<path d="M205.2,157.0 Q208.4,161.2 205.2,165.5" fill="none" stroke="#000" stroke-width="2.08"/>
<text x="171.00" y="166.00" font-size="11.48" textLength="33.12" lengthAdjust="spacingAndGlyphs" font-weight="bold" stroke="#000" stroke-width="0.45" stroke-linejoin="round">No. 4</text>
<text x="328.50" y="188.00" font-size="14.88" textLength="59.05" lengthAdjust="spacingAndGlyphs" font-weight="bold" stroke="#000" stroke-width="0.80" stroke-linejoin="round">85348T</text>
<text x="395.00" y="218.00" font-size="14.00" textLength="62.63" lengthAdjust="spacingAndGlyphs" font-weight="bold" stroke="#000" stroke-width="0.80" stroke-linejoin="round">85372R</text>
<path d="M405.8,222.8 Q402.6,227.3 405.8,231.9" fill="none" stroke="#000" stroke-width="2.08"/>
<path d="M441.2,222.8 Q444.4,227.3 441.2,231.9" fill="none" stroke="#000" stroke-width="2.08"/>
<text x="405.50" y="232.00" font-size="12.83" textLength="34.57" lengthAdjust="spacingAndGlyphs" font-weight="bold" stroke="#000" stroke-width="0.45" stroke-linejoin="round">No. 5</text>
<text x="98.00" y="305.00" font-size="14.56" textLength="88.00" lengthAdjust="spacingAndGlyphs" font-weight="bold" stroke="#000" stroke-width="0.80" stroke-linejoin="round">82711-30450</text>
<text x="172.50" y="335.00" font-size="14.86" textLength="86.53" lengthAdjust="spacingAndGlyphs" font-weight="bold" stroke="#000" stroke-width="0.80" stroke-linejoin="round">82711-16270</text>
<text x="443.50" y="292.00" font-size="14.00" textLength="59.53" lengthAdjust="spacingAndGlyphs" font-weight="bold" stroke="#000" stroke-width="0.80" stroke-linejoin="round">85372T</text>
<text x="553.50" y="326.50" font-size="16.00" textLength="60.54" lengthAdjust="spacingAndGlyphs" font-weight="bold" stroke="#000" stroke-width="0.80" stroke-linejoin="round">85373R</text>
<text x="412.00" y="358.50" font-size="16.00" textLength="60.00" lengthAdjust="spacingAndGlyphs" font-weight="bold" stroke="#000" stroke-width="0.80" stroke-linejoin="round">85348S</text>
<text x="230.00" y="400.50" font-size="12.36" textLength="87.00" lengthAdjust="spacingAndGlyphs" font-weight="bold" stroke="#000" stroke-width="0.80" stroke-linejoin="round">82711-22150</text>
<text x="232.00" y="412.50" font-size="12.36" textLength="98.00" lengthAdjust="spacingAndGlyphs" font-weight="bold" stroke="#000" stroke-width="0.80" stroke-linejoin="round">85361-20720</text>
<text x="232.00" y="426.50" font-size="12.36" textLength="98.00" lengthAdjust="spacingAndGlyphs" font-weight="bold" stroke="#000" stroke-width="0.80" stroke-linejoin="round">85361-20620</text>
<text x="401.00" y="432.00" font-size="14.44" textLength="61.00" lengthAdjust="spacingAndGlyphs" font-weight="bold" stroke="#000" stroke-width="0.80" stroke-linejoin="round">85372R</text>
<path d="M404.7,435.6 Q401.5,440.4 404.7,445.1" fill="none" stroke="#000" stroke-width="2.08"/>
<path d="M438.9,435.6 Q442.1,440.4 438.9,445.1" fill="none" stroke="#000" stroke-width="2.08"/>
<text x="404.00" y="445.00" font-size="13.12" textLength="34.56" lengthAdjust="spacingAndGlyphs" font-weight="bold" stroke="#000" stroke-width="0.45" stroke-linejoin="round">No. 3</text>
<text x="36.50" y="522.00" font-size="16.00" textLength="63.16" lengthAdjust="spacingAndGlyphs" font-weight="bold" stroke="#000" stroke-width="0.80" stroke-linejoin="round">85372R</text>
<path d="M42.0,525.6 Q38.8,530.1 42.0,534.7" fill="none" stroke="#000" stroke-width="2.08"/>
<path d="M77.3,525.6 Q80.5,530.1 77.3,534.7" fill="none" stroke="#000" stroke-width="2.08"/>
<text x="41.50" y="535.00" font-size="12.83" textLength="35.07" lengthAdjust="spacingAndGlyphs" font-weight="bold" stroke="#000" stroke-width="0.45" stroke-linejoin="round">No. 1</text>
<text x="113.00" y="512.00" font-size="14.32" textLength="59.59" lengthAdjust="spacingAndGlyphs" font-weight="bold" stroke="#000" stroke-width="0.80" stroke-linejoin="round">85348T</text>
<text x="273.50" y="557.00" font-size="16.00" textLength="60.03" lengthAdjust="spacingAndGlyphs" font-weight="bold" stroke="#000" stroke-width="0.80" stroke-linejoin="round">85348T</text>
<text x="170.50" y="583.50" font-size="14.56" textLength="61.61" lengthAdjust="spacingAndGlyphs" font-weight="bold" stroke="#000" stroke-width="0.80" stroke-linejoin="round">85372R</text>
<path d="M177.0,586.8 Q173.8,591.4 177.0,595.9" fill="none" stroke="#000" stroke-width="2.08"/>
<path d="M212.3,586.8 Q215.5,591.4 212.3,595.9" fill="none" stroke="#000" stroke-width="2.08"/>
<text x="176.50" y="596.00" font-size="12.83" textLength="35.16" lengthAdjust="spacingAndGlyphs" font-weight="bold" stroke="#000" stroke-width="0.45" stroke-linejoin="round">No. 2</text>
<text x="693.50" y="507.00" font-size="12.71" textLength="66.55" lengthAdjust="spacingAndGlyphs" font-weight="bold" stroke="#000" stroke-width="0.80" stroke-linejoin="round">86031C</text>
<text x="585.50" y="538.50" font-size="13.75" textLength="61.07" lengthAdjust="spacingAndGlyphs" font-weight="bold" stroke="#000" stroke-width="0.80" stroke-linejoin="round">85348R</text>
<text x="649.00" y="616.50" font-size="16.20" textLength="60.00" lengthAdjust="spacingAndGlyphs" font-weight="bold" stroke="#000" stroke-width="0.80" stroke-linejoin="round">85371R</text>
<path d="M652.8,619.7 Q649.6,624.2 652.8,628.6" fill="none" stroke="#000" stroke-width="2.08"/>
<path d="M687.0,619.7 Q690.2,624.2 687.0,628.6" fill="none" stroke="#000" stroke-width="2.08"/>
<text x="652.50" y="628.50" font-size="12.69" textLength="33.58" lengthAdjust="spacingAndGlyphs" font-weight="bold" stroke="#000" stroke-width="0.45" stroke-linejoin="round">No. 2</text>
<text x="343.50" y="657.00" font-size="16.00" textLength="59.55" lengthAdjust="spacingAndGlyphs" font-weight="bold" stroke="#000" stroke-width="0.80" stroke-linejoin="round">85371R</text>
<path d="M347.0,659.8 Q343.8,664.4 347.0,668.9" fill="none" stroke="#000" stroke-width="2.08"/>
<path d="M382.3,659.8 Q385.5,664.4 382.3,668.9" fill="none" stroke="#000" stroke-width="2.08"/>
<text x="346.50" y="669.00" font-size="12.83" textLength="35.07" lengthAdjust="spacingAndGlyphs" font-weight="bold" stroke="#000" stroke-width="0.45" stroke-linejoin="round">No. 1</text>
<text x="123.00" y="748.00" font-size="18.53" textLength="8.17" lengthAdjust="spacingAndGlyphs" font-weight="bold" stroke="#000" stroke-width="0.80" stroke-linejoin="round">1</text>
<text x="133.00" y="748.00" font-size="16.57" textLength="33.06" lengthAdjust="spacingAndGlyphs" font-weight="bold" stroke="#000" stroke-width="0.80" stroke-linejoin="round">RHD</text>
<text x="121.00" y="765.50" font-size="18.03" textLength="10.00" lengthAdjust="spacingAndGlyphs" font-weight="bold" stroke="#000" stroke-width="0.80" stroke-linejoin="round">2</text>
<text x="133.00" y="765.50" font-size="16.00" textLength="31.07" lengthAdjust="spacingAndGlyphs" font-weight="bold" stroke="#000" stroke-width="0.80" stroke-linejoin="round">LHD</text>
<text x="686.00" y="1040.20" font-size="13.96" textLength="79.56" lengthAdjust="spacingAndGlyphs" font-weight="bold" stroke="#000" stroke-width="0.80" stroke-linejoin="round">ME Q768-A</text>
<path d="M211.8,404.3 L219.2,411.7 M219.2,404.3 L211.8,411.7 M210.7,408.0 L220.3,408.0 M215.5,404.2 L215.5,411.8" fill="none" stroke="#000" stroke-width="2.21" stroke-linecap="round" stroke-linejoin="round"/>
<text x="222.00" y="412.50" font-size="13.60" textLength="6.00" lengthAdjust="spacingAndGlyphs" font-weight="bold" stroke="#000" stroke-width="0.80" stroke-linejoin="round">1</text>
<path d="M211.8,418.3 L219.2,425.7 M219.2,418.3 L211.8,425.7 M210.7,422.0 L220.3,422.0 M215.5,418.2 L215.5,425.8" fill="none" stroke="#000" stroke-width="2.21" stroke-linecap="round" stroke-linejoin="round"/>
<text x="221.00" y="426.50" font-size="13.08" textLength="8.00" lengthAdjust="spacingAndGlyphs" font-weight="bold" stroke="#000" stroke-width="0.80" stroke-linejoin="round">2</text>
<path d="M105.4,737.4 L116.6,748.6 M116.6,737.4 L105.4,748.6 M103.8,743.0 L118.2,743.0 M111.0,737.2 L111.0,748.8" fill="none" stroke="#000" stroke-width="2.99" stroke-linecap="round" stroke-linejoin="round"/>
<path d="M105.4,755.2 L116.6,766.4 M116.6,755.2 L105.4,766.4 M103.8,760.8 L118.2,760.8 M111.0,755.0 L111.0,766.6" fill="none" stroke="#000" stroke-width="2.99" stroke-linecap="round" stroke-linejoin="round"/>
<path d="M99.5,769.2 L169.8,768.8" fill="none" stroke="#000" stroke-width="3.38" stroke-linecap="round" stroke-linejoin="round"/>
</svg>
</body></html>
